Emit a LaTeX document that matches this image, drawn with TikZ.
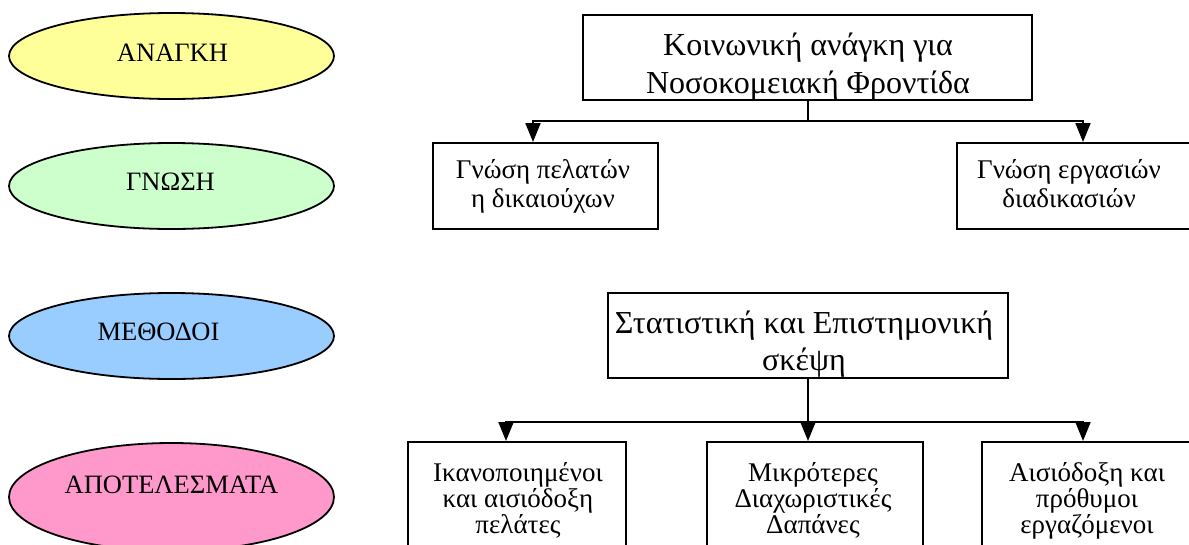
\documentclass[tikz,border=0pt]{standalone}
\usepackage{fontspec}
\setmainfont{Liberation Serif}
\usetikzlibrary{arrows.meta,shapes.geometric}
\definecolor{cyel}{HTML}{FFFF99}
\definecolor{cgrn}{HTML}{CCFFCC}
\definecolor{cblu}{HTML}{99CCFF}
\definecolor{cpnk}{HTML}{FF99CC}
\begin{document}
\begin{tikzpicture}[x=1pt,y=-1pt,
  lab/.style={ellipse, draw, line width=1.8pt, minimum width=325pt, minimum height=86pt, inner sep=0pt},
  labtxt/.style={inner sep=0pt, font=\fontsize{26.5}{30}\selectfont},
  box/.style={draw, line width=2pt, rectangle, inner sep=0pt},
  ln/.style={line width=2pt},
  arr/.style={line width=2pt, -{Triangle[length=19pt,width=15pt]}},
  bigtxt/.style={align=center, anchor=base, inner sep=0pt, font=\fontsize{32}{38}\selectfont},
  stattxt/.style={align=center, anchor=base, inner sep=0pt, font=\fontsize{32}{37}\selectfont},
  midtxt/.style={align=center, anchor=base, inner sep=0pt, font=\fontsize{27}{29}\selectfont},
  lowtxt/.style={align=center, anchor=base, inner sep=0pt, font=\fontsize{27}{26}\selectfont}]
\useasboundingbox (0,0) rectangle (1189,544);
\clip (0,0) rectangle (1189,544);
\fill[white] (0,0) rectangle (1189,544);

% left ellipses
\node[lab, fill=cyel] (e1) at (171.5,56) {};
\node[lab, fill=cgrn] (e2) at (171.5,186) {};
\node[lab, fill=cblu] (e3) at (171.5,336) {};
\node[lab, fill=cpnk, minimum height=108pt] (e4) at (171.5,497) {};
\node[labtxt] (t1) at ([shift={(1,-3)}]e1.center) {ΑΝΑΓΚΗ};
\node[labtxt] (t2) at ([shift={(-1,-4)}]e2.center) {ΓΝΩΣΗ};
\node[labtxt] (t3) at ([shift={(-13,-4)}]e3.center) {ΜΕΘΟΔΟΙ};
\node[labtxt] (t4) at ([shift={(0,-12)}]e4.center) {ΑΠΟΤΕΛΕΣΜΑΤΑ};

% boxes
\node[box, minimum width=449pt, minimum height=85pt] (top) at (807.5,57.5) {};
\node[box, minimum width=225pt, minimum height=86pt] (gl) at (545.5,186) {};
\node[box, minimum width=243pt, minimum height=86pt] (gr) at (1078.5,186) {};
\node[box, minimum width=400pt, minimum height=85pt] (stat) at (808,335.5) {};
\node[box, minimum width=218pt, minimum height=118pt] (b1) at (517,501) {};
\node[box, minimum width=216pt, minimum height=118pt] (b2) at (815,501) {};
\node[box, minimum width=218pt, minimum height=118pt] (b3) at (1091,501) {};

% texts
\begin{scope}
\clip (top.north west) rectangle ([yshift=-8.5pt]top.south east);
\node[bigtxt] (ttop) at (808,93) {Κοινωνική ανάγκη για\\Νοσοκομειακή Φροντίδα};
\end{scope}
\node[midtxt] (tgl) at (543,207) {Γνώση πελατών\\η δικαιούχων};
\node[midtxt] (tgr) at (1069,207) {Γνώση εργασιών\\διαδικασιών};
\begin{scope}
\clip (stat.north west) rectangle ([yshift=-10.5pt]stat.south east);
\node[stattxt] (tstat) at (804,370) {Στατιστική και Επιστημονική\\σκέψη};
\end{scope}
\node[lowtxt] (tb1) at (518,533) {Ικανοποιημένοι\\και αισιόδοξη\\πελάτες};
\node[lowtxt] (tb2) at (813,533) {Μικρότερες\\Διαχωριστικές\\Δαπάνες};
\node[lowtxt] (tb3) at (1087,533) {Αισιόδοξη και\\πρόθυμοι\\εργαζόμενοι};

% connectors
\coordinate (h1) at (0,121);
\coordinate (h2) at (0,422);
\coordinate (xl) at (533,0);
\coordinate (xr) at (1083,0);
\coordinate (xbl) at (506,0);
\draw[ln] (top.south) -- (top.south |- h1);
\draw[arr] (top.south |- h1) -| (gl.north -| xl);
\draw[arr] (top.south |- h1) -| (gr.north -| xr);
\draw[arr] (stat.south) -- (b2.north -| stat.south);
\draw[arr] (stat.south |- h2) -| (b1.north -| xbl);
\draw[arr] (stat.south |- h2) -| (b3.north -| xr);
\end{tikzpicture}
\end{document}
